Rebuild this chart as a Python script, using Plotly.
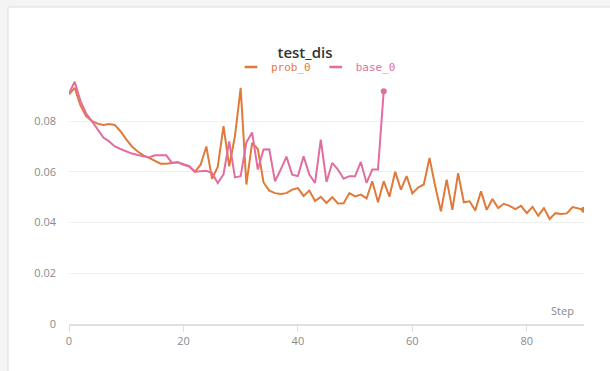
import plotly.graph_objects as go

steps_prob = list(range(0, 91))
prob_0 = [0.0905, 0.0931, 0.0862, 0.0820, 0.0800, 0.0790, 0.0785, 0.0788, 0.0785, 0.0760,
          0.0728, 0.0700, 0.0680, 0.0665, 0.0655, 0.0642, 0.0632, 0.0632, 0.0634, 0.0638,
          0.0630, 0.0622, 0.0600, 0.0628, 0.0700, 0.0572, 0.0620, 0.0780, 0.0622, 0.0740,
          0.0931, 0.0550, 0.0714, 0.0690, 0.0558, 0.0526, 0.0516, 0.0513, 0.0516, 0.0530,
          0.0536, 0.0505, 0.0526, 0.0485, 0.0501, 0.0477, 0.0500, 0.0475, 0.0476, 0.0516,
          0.0503, 0.0510, 0.0495, 0.0563, 0.0480, 0.0563, 0.0502, 0.0600, 0.0530, 0.0583,
          0.0515, 0.0538, 0.0550, 0.0655, 0.0543, 0.0444, 0.0569, 0.0450, 0.0595, 0.0480,
          0.0484, 0.0448, 0.0523, 0.0450, 0.0493, 0.0457, 0.0474, 0.0466, 0.0453, 0.0466,
          0.0437, 0.0462, 0.0427, 0.0457, 0.0414, 0.0437, 0.0434, 0.0436, 0.0461, 0.0457,
          0.0450]

steps_base = list(range(0, 56))
base_0 = [0.0910, 0.0955, 0.0880, 0.0830, 0.0800, 0.0767, 0.0735, 0.0720, 0.0700, 0.0690,
          0.0680, 0.0672, 0.0666, 0.0661, 0.0657, 0.0665, 0.0665, 0.0665, 0.0635, 0.0638,
          0.0628, 0.0622, 0.0600, 0.0602, 0.0604, 0.0595, 0.0556, 0.0590, 0.0720, 0.0578,
          0.0583, 0.0716, 0.0755, 0.0609, 0.0688, 0.0689, 0.0563, 0.0609, 0.0660, 0.0589,
          0.0583, 0.0661, 0.0589, 0.0556, 0.0727, 0.0560, 0.0635, 0.0609, 0.0573, 0.0583,
          0.0583, 0.0639, 0.0556, 0.0609, 0.0609, 0.0918]

x_ticks = [0, 20, 40, 60, 80]
y_ticks = [0, 0.02, 0.04, 0.06, 0.08]
y_labels = ["0", "0.02", "0.04", "0.06", "0.08"]

ORANGE = "#df7a3a"
PINK = "#e26ea1"

fig = go.Figure()

def add_series(xs, ys, name, color):
    fig.add_trace(go.Scatter(x=xs, y=ys, mode="lines", line=dict(color=color, width=2),
                             showlegend=False, hoverinfo="skip"))
    fig.add_trace(go.Scatter(x=[xs[-1]], y=[ys[-1]], mode="markers",
                             marker=dict(color=color, size=6), showlegend=False))
    fig.add_trace(go.Scatter(x=[None], y=[None], mode="markers",
                             marker=dict(symbol="line-ew-open", size=9, color=color,
                                         line=dict(color=color, width=2.5)),
                             name=f"<span style='color:{color}'>{name}</span>"))

add_series(steps_prob, prob_0, "prob_0", ORANGE)
add_series(steps_base, base_0, "base_0", PINK)

W, H = 610, 371
L, R, T, B = 69, 26, 80, 47
pw, ph = W - L - R, H - T - B

def px(x):
    return (x - L) / pw

def py(y):
    return (H - B - y) / ph

fig.add_shape(type="rect", xref="paper", yref="paper",
              x0=px(8), x1=px(640), y0=py(7), y1=py(400),
              fillcolor="white", line=dict(color="#dcdcdc", width=1), layer="below")

fig.add_annotation(text="Step", xref="paper", yref="paper", x=1, y=0,
                   xanchor="right", yanchor="bottom", xshift=-8, yshift=4,
                   showarrow=False, font=dict(size=11, color="#8a8a8a"))

fig.update_layout(
    width=W, height=H,
    margin=dict(l=L, r=R, t=T, b=B, autoexpand=False),
    paper_bgcolor="#f4f4f4",
    plot_bgcolor="rgba(0,0,0,0)",
    font=dict(family="Open Sans", size=11, color="#8a8a8a"),
    title=dict(text="test_dis", x=0.5, xref="container", xanchor="center",
               y=1 - 53 / H, yref="container", yanchor="middle",
               font=dict(family="Open Sans", size=15, color="#333333", weight=600)),
    legend=dict(orientation="h", x=px(316), xanchor="center", xref="paper",
                y=py(67), yref="paper", yanchor="middle",
                font=dict(family="DejaVu Sans Mono", size=11),
                itemwidth=30, bgcolor="rgba(0,0,0,0)"),
    xaxis=dict(range=[0, 90], tickvals=x_ticks, showgrid=False, zeroline=False,
               showline=True, linecolor="#e0e0e0", linewidth=1.5,
               ticks="outside", ticklen=6, tickcolor="#e0e0e0",
               tickfont=dict(size=11, color="#8a8a8a"), automargin=False),
    yaxis=dict(range=[0, 0.0962], tickvals=y_ticks, ticktext=y_labels,
               showgrid=True, gridcolor="#f0f0f0", zeroline=False,
               showline=False, ticks="", ticklabelstandoff=12,
               tickfont=dict(size=11, color="#8a8a8a"), automargin=False),
)

fig.write_html("out.html")
